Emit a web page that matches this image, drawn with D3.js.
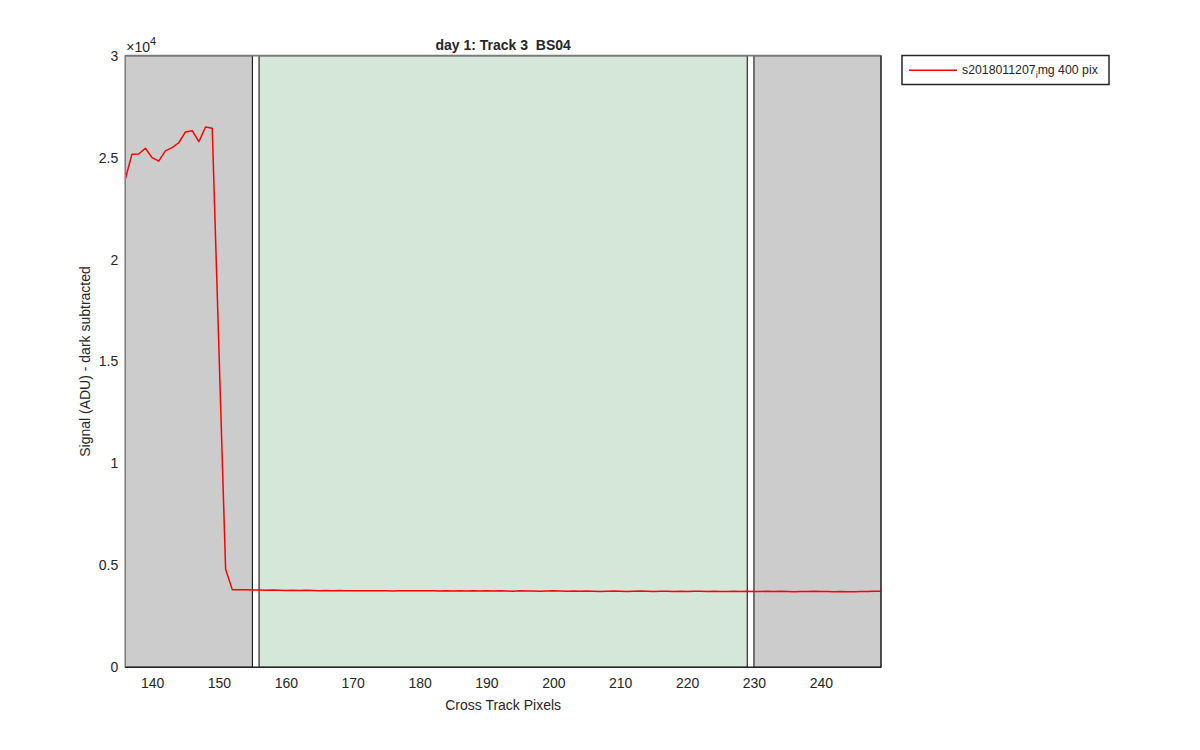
<!DOCTYPE html>
<html><head><meta charset="utf-8">
<script src="https://cdn.jsdelivr.net/npm/d3@7"></script>
<style>body{margin:0;background:#fff;} text{font-family:"Liberation Sans",Arial,sans-serif;fill:#262626;}</style>
</head><body>
<svg id="chart" width="1200" height="750"></svg>
<script>
const title = "day 1: Track 3  BS04";
const xLabel = "Cross Track Pixels";
const yLabel = "Signal (ADU) - dark subtracted";
const legendParts = ["s2018011207", "i", "mg 400 pix"];
const xTicks = [140, 150, 160, 170, 180, 190, 200, 210, 220, 230, 240];
const yTicks = [0, 5000, 10000, 15000, 20000, 25000, 30000];
const yTickLabels = ["0", "0.5", "1", "1.5", "2", "2.5", "3"];
const xDomain = [136, 249];
const yDomain = [0, 30000];
// shaded regions [start, end, kind]
const regionStarts = [136, 156, 230];
const regionEnds = [155, 229, 249];
const regionKinds = ["gray", "green", "gray"];
const pixels = d3.range(136, 250);
const signal = [
 23950,25170,25180,25460,25000,24830,25330,25490,25730,26260,
 26320,25780,26500,26440,15600,4810,
 3810,3800,3800,3790,3790,3780,3790,3780,3770,3780,
 3770,3780,3770,3760,3770,3760,3770,3760,3750,3760,
 3750,3760,3750,3760,3740,3760,3750,3760,3750,3760,
 3750,3740,3750,3740,3750,3740,3750,3740,3750,3740,
 3750,3740,3730,3750,3740,3740,3730,3740,3750,3740,
 3730,3740,3730,3740,3730,3720,3730,3740,3730,3720,
 3730,3740,3730,3720,3730,3730,3720,3730,3720,3730,
 3730,3720,3730,3720,3720,3730,3720,3730,3720,3720,
 3730,3720,3730,3720,3710,3720,3720,3730,3720,3720,
 3710,3720,3700,3700,3720,3720,3730,3730
];

const L = 125.3, R = 881, T = 55.7, B = 667.3;
const FONT = "'Liberation Sans',Arial,sans-serif";
const svg = d3.select("#chart");
svg.append("rect").attr("width",1200).attr("height",750).attr("fill","#fff");
const x = d3.scaleLinear().domain(xDomain).range([L, R]);
const y = d3.scaleLinear().domain(yDomain).range([B, T]);
const fills = {gray:"#cccccc", green:"#d5e7d9"};

// regions
regionStarts.forEach((s,i)=>{
  svg.append("rect")
    .attr("x", x(s)).attr("y", T)
    .attr("width", x(regionEnds[i]) - x(s)).attr("height", B - T)
    .attr("fill", fills[regionKinds[i]])
    .attr("stroke", "#000").attr("stroke-width", 1);
});

// line
svg.append("path")
  .datum(pixels.map((p,i)=>[p, signal[i]]))
  .attr("fill","none").attr("stroke","#ff0000").attr("stroke-width",1.5)
  .attr("stroke-linejoin","round")
  .attr("d", d3.line().x(d=>x(d[0])).y(d=>y(d[1])));

// axes box
svg.append("line").attr("x1",L).attr("x2",R).attr("y1",T).attr("y2",T).attr("stroke","#7a7a7a").attr("stroke-width",1.8);
svg.append("line").attr("x1",L).attr("x2",L).attr("y1",T).attr("y2",B).attr("stroke","#8a8a8a").attr("stroke-width",1.2);
svg.append("line").attr("x1",R).attr("x2",R).attr("y1",T).attr("y2",B).attr("stroke","#333").attr("stroke-width",1.2);
svg.append("line").attr("x1",L).attr("x2",R).attr("y1",B).attr("y2",B).attr("stroke","#262626").attr("stroke-width",1.5);

// x axis
const xAxis = svg.append("g").attr("transform",`translate(0,${B})`)
  .call(d3.axisBottom(x).tickValues(xTicks).tickSize(0).tickPadding(11).tickFormat(d3.format("d")));
xAxis.select(".domain").remove();
xAxis.selectAll("text").style("font-size","14px").style("font-family",FONT).attr("fill","#262626");

// y axis
const yAxis = svg.append("g").attr("transform",`translate(${L},0)`)
  .call(d3.axisLeft(y).tickValues(yTicks).tickSize(0).tickPadding(7).tickFormat((d,i)=>yTickLabels[i]));
yAxis.select(".domain").remove();
yAxis.selectAll("text").style("font-size","14px").style("font-family",FONT).attr("fill","#262626");

// exponent
const ex = svg.append("text").attr("x", L + 1).attr("y", 52).style("font-size","14px");
ex.append("tspan").text("\u00d710");
ex.append("tspan").attr("dy",-7).style("font-size","11px").text("4");

// title
svg.append("text").attr("x",(L+R)/2).attr("y",49.5).attr("text-anchor","middle")
  .style("font-size","14px").style("font-weight","bold").style("white-space","pre").text(title);

// x label
svg.append("text").attr("x",(L+R)/2).attr("y",710).attr("text-anchor","middle").style("font-size","14px").text(xLabel);
// y label
svg.append("text").attr("transform",`translate(90,${(T+B)/2}) rotate(-90)`).attr("text-anchor","middle").style("font-size","14px").text(yLabel);

// legend
svg.append("rect").attr("x",902).attr("y",55.5).attr("width",207).attr("height",29)
  .attr("fill","#fff").attr("stroke","#262626").attr("stroke-width",1.5);
svg.append("line").attr("x1",909).attr("x2",957).attr("y1",70.3).attr("y2",70.3).attr("stroke","#ff0000").attr("stroke-width",1.5);
const lt = svg.append("text").attr("x",962).attr("y",74).style("font-size","12.3px");
lt.append("tspan").text(legendParts[0]);
lt.append("tspan").attr("dy",4).style("font-size","9px").text(legendParts[1]);
lt.append("tspan").attr("dy",-4).text(legendParts[2]);
</script>
</body></html>
